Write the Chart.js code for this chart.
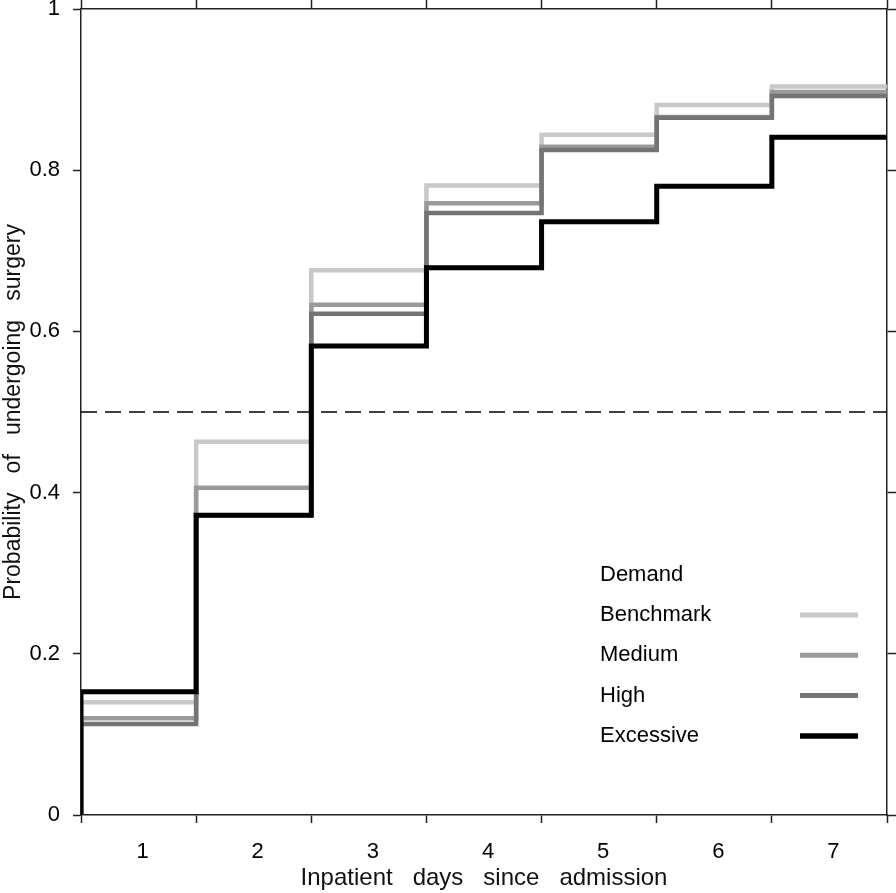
<!DOCTYPE html>
<html>
<head>
<meta charset="utf-8">
<script src="https://cdn.jsdelivr.net/npm/chart.js@4.4.1/dist/chart.umd.min.js"></script>
<style>
  body { margin: 0; background: #fff; }
  #chart { display: block; }
</style>
</head>
<body>
<canvas id="chart" width="896" height="893"></canvas>
<script>
// valores (probabilidade acumulada por dia)
const days = [1, 2, 3, 4, 5, 6, 7];
const dayLabels = ['1', '2', '3', '4', '5', '6', '7'];
const yTickLabels = ['0', '0.2', '0.4', '0.6', '0.8', '1'];
const seriesNames = ['Benchmark', 'Medium', 'High', 'Excessive'];
const benchmark = [0.140, 0.463, 0.676, 0.781, 0.844, 0.881, 0.904];
const medium = [0.120, 0.406, 0.633, 0.759, 0.829, 0.866, 0.897];
const high = [0.113, 0.372, 0.622, 0.747, 0.825, 0.865, 0.892];
const excessive = [0.153, 0.372, 0.582, 0.679, 0.736, 0.780, 0.841];
const threshold = 0.5;
const legendTitle = 'Demand';

const FONT = '"Liberation Sans", Arial, Helvetica, sans-serif';
const AXIS = '#222';

// transforma a série em pontos de degrau
function stepPoints(values) {
    const pts = [{ x: 0, y: 0 }];
    values.forEach((v, i) => pts.push({ x: days[i], y: v }));
    return pts;
}

function serie(label, values, color, width, order) {
    return {
        label: label,
        data: stepPoints(values),
        borderColor: color,
        borderWidth: width,
        stepped: 'after',
        pointRadius: 0,
        fill: false,
        order: order
    };
}

// zera o espaço extra que o Chart.js reserva para os rótulos
function semPadding(scale) {
    scale.paddingTop = 0;
    scale.paddingBottom = 0;
    scale.paddingLeft = 0;
    scale.paddingRight = 0;
}

// legenda desenhada dentro da área do gráfico
const legendaInterna = {
    id: 'legendaInterna',
    afterDatasetsDraw(chart) {
        const ctx = chart.ctx;
        ctx.save();
        ctx.font = '22px ' + FONT;
        ctx.fillStyle = '#000';
        ctx.textBaseline = 'middle';
        ctx.textAlign = 'left';
        ctx.fillText(legendTitle, 600, 575);
        seriesNames.forEach((nome, i) => {
            const ds = chart.data.datasets.find(d => d.label === nome);
            const y = 615 + i * 40.3;
            ctx.fillStyle = '#000';
            ctx.fillText(nome, 600, y);
            ctx.strokeStyle = ds.borderColor;
            ctx.lineWidth = ds.borderWidth + 0.5;
            ctx.beginPath();
            ctx.moveTo(800, y);
            ctx.lineTo(858, y);
            ctx.stroke();
        });
        ctx.restore();
    }
};

const hiddenAxis = (position, size) => ({
    type: 'linear',
    position: position,
    min: 0,
    max: position === 'top' ? 7 : 1,
    ticks: { display: false, stepSize: position === 'top' ? 1 : 0.2 },
    grid: { drawOnChartArea: false, tickLength: size, tickColor: AXIS, tickWidth: 1.5 },
    border: { display: true, color: AXIS, width: 1.5 },
    afterFit(scale) {
        if (position === 'top') scale.height = size; else scale.width = size;
        semPadding(scale);
    }
});

new Chart(document.getElementById('chart'), {
    type: 'line',
    data: {
        datasets: [
            serie('Excessive', excessive, '#000000', 5, 0),
            serie('High', high, '#747474', 4.5, 1),
            serie('Medium', medium, '#9a9a9a', 4.5, 2),
            serie('Benchmark', benchmark, '#c8c8c8', 4.5, 3),
            {
                label: 'threshold',
                data: [{ x: 0, y: threshold }, { x: 7, y: threshold }],
                borderColor: '#000',
                borderWidth: 1.5,
                borderDash: [16, 8],
                pointRadius: 0,
                order: 4
            }
        ]
    },
    options: {
        responsive: false,
        animation: false,
        layout: { padding: 0 },
        plugins: {
            legend: { display: false },
            tooltip: { enabled: false }
        },
        scales: {
            x: {
                type: 'linear',
                position: 'bottom',
                min: 0,
                max: 7,
                ticks: {
                    stepSize: 0.5,
                    autoSkip: false,
                    maxRotation: 0,
                    padding: 16,
                    labelOffset: 4,
                    color: '#000',
                    font: { family: FONT, size: 22 },
                    callback: (v) => (v % 1 !== 0 ? dayLabels[Math.floor(v)] : '')
                },
                grid: {
                    drawOnChartArea: false,
                    tickLength: 8,
                    tickWidth: 1.5,
                    tickColor: (c) => (c.tick && c.tick.value % 1 !== 0 ? 'rgba(0,0,0,0)' : AXIS)
                },
                border: { color: AXIS, width: 1.5 },
                title: {
                    display: true,
                    text: 'Inpatient   days   since   admission',
                    color: '#111',
                    font: { family: FONT, size: 24 },
                    padding: 0
                },
                afterFit(scale) { scale.height = 78; semPadding(scale); }
            },
            y: {
                type: 'linear',
                position: 'left',
                min: 0,
                max: 1,
                ticks: {
                    stepSize: 0.2,
                    padding: 13,
                    color: '#000',
                    font: { family: FONT, size: 22 },
                    callback: (v, i) => yTickLabels[i]
                },
                grid: { drawOnChartArea: false, tickLength: 8, tickWidth: 1.5, tickColor: AXIS },
                border: { color: AXIS, width: 1.5 },
                title: {
                    display: true,
                    text: 'Probability   of   undergoing   surgery',
                    color: '#111',
                    font: { family: FONT, size: 23 },
                    padding: 0
                },
                afterFit(scale) { scale.width = 81; semPadding(scale); }
            },
            xTop: hiddenAxis('top', 9),
            yRight: hiddenAxis('right', 9)
        }
    },
    plugins: [legendaInterna]
});
</script>
</body>
</html>
